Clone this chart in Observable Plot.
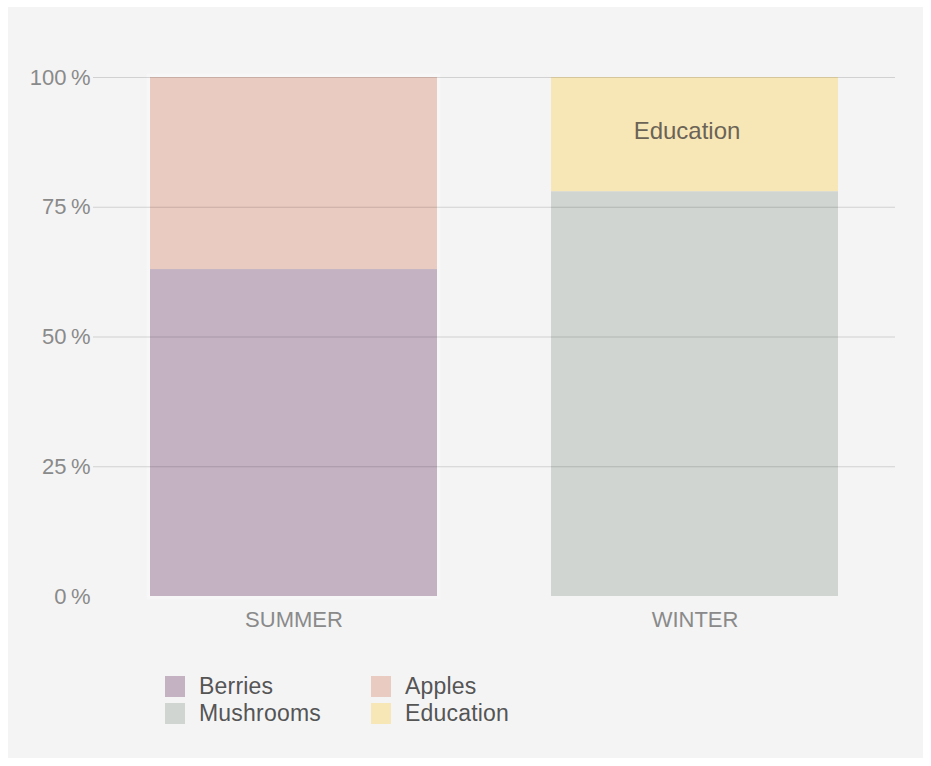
<!DOCTYPE html>
<html>
<head>
<meta charset="utf-8">
<script src="https://cdn.jsdelivr.net/npm/d3@7"></script>
<script src="https://cdn.jsdelivr.net/npm/@observablehq/plot@0.6"></script>
<style>
  html, body { margin: 0; padding: 0; background: #ffffff; }
  #panel { position: absolute; left: 8px; top: 7px; width: 915px; height: 751px; background: #f4f4f5; font-family: "Liberation Sans", Arial, sans-serif; }
  #chart svg { display: block; }
  .lg-item { position: absolute; display: flex; align-items: center; height: 21px; font-size: 23px; letter-spacing: 0.2px; color: #555; }
  .lg-sw { width: 20px; height: 21px; margin-right: 14px; }
</style>
</head>
<body>
<div id="panel">
  <div id="chart"></div>
  <div id="legend"></div>
</div>
<script>
// ---- data ----
const seasons = ["SUMMER", "WINTER"];
const categories = ["Berries", "Apples", "Mushrooms", "Education"];
const colors = ["#c4b2c3", "#eacbc1", "#d1d5d2", "#f8e7b6"];
const berries = [0.63, 0];
const apples = [0.37, 0];
const mushrooms = [0, 0.78];
const education = [0, 0.22];
const yTicks = [0, 0.25, 0.5, 0.75, 1];
const gridTicks = [0.25, 0.5, 0.75, 1];
const barLabels = [{season: "WINTER", category: "Education"}];

const series = [berries, apples, mushrooms, education];
const rows = [];
categories.forEach((c, ci) => seasons.forEach((s, si) => {
  rows.push({season: s, category: c, value: series[ci][si]});
}));
const totals = seasons.map((s, si) => ({season: s, value: d3.sum(series, v => v[si])}));

// label positions: midpoint of stacked segment
const labelRows = barLabels.map(l => {
  const si = seasons.indexOf(l.season);
  const ci = categories.indexOf(l.category);
  let base = 0;
  for (let k = 0; k < ci; k++) base += series[k][si];
  return {season: l.season, text: l.category, y: base + series[ci][si] / 2};
});

const chart = Plot.plot({
  width: 915,
  height: 640,
  marginTop: 70,
  marginBottom: 51,
  marginLeft: 85,
  marginRight: 28,
  style: {background: "transparent", fontFamily: "Liberation Sans, Arial, sans-serif"},
  x: {domain: seasons, padding: 0, label: null},
  y: {domain: [0, 1], label: null},
  color: {domain: categories, range: colors},
  marks: [
    Plot.barY(totals.filter(d => d.season === "SUMMER"), {
      x: "season", y: "value", insetLeft: 57, insetRight: 57,
      fill: "none", stroke: "#ffffff", strokeOpacity: 0.3, strokeWidth: 7
    }),
    Plot.barY(rows, Plot.stackY({
      x: "season", y: "value", fill: "category", order: categories,
      insetLeft: 57, insetRight: 57
    })),
    Plot.ruleY(gridTicks, {stroke: "#000", strokeOpacity: 0.14, strokeWidth: 1}),
    Plot.axisY(yTicks, {
      tickSize: 0, tickPadding: 3, fontSize: 22, fill: "#8a8a8a",
      tickFormat: d => `${Math.round(d * 100)}\u2009%`, label: null
    }),
    Plot.axisX({
      tickSize: 0, tickPadding: 15, fontSize: 22, fill: "#8a8a8a", label: null,
      style: {letterSpacing: "0.8px"}
    }),
    Plot.text(labelRows, {
      x: "season", y: "y", text: "text", fontSize: 24, fill: "#6b6456", dx: -8, dy: -3
    })
  ]
});
document.getElementById("chart").appendChild(chart);

// ---- legend (two columns, row-major) ----
const legend = document.getElementById("legend");
const colLeft = [157, 363];
const rowTop = [669, 696];
categories.forEach((c, i) => {
  const item = document.createElement("div");
  item.className = "lg-item";
  item.style.left = colLeft[i % 2] + "px";
  item.style.top = rowTop[Math.floor(i / 2)] + "px";
  const sw = document.createElement("span");
  sw.className = "lg-sw";
  sw.style.background = colors[i];
  const tx = document.createElement("span");
  tx.textContent = c;
  item.appendChild(sw);
  item.appendChild(tx);
  legend.appendChild(item);
});
</script>
</body>
</html>
